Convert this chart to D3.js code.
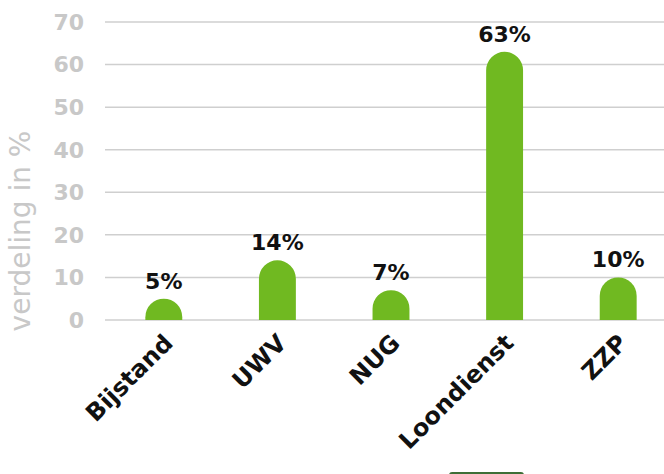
<!DOCTYPE html>
<html>
<head>
<meta charset="utf-8">
<script src="https://cdn.jsdelivr.net/npm/d3@7"></script>
<style>
  body { margin: 0; background: #fff; }
  svg { display: block; font-family: "DejaVu Sans", sans-serif; }
</style>
</head>
<body>
<svg id="chart" width="664" height="474"></svg>
<script>
const categories = ['Bijstand', 'UWV', 'NUG', 'Loondienst', 'ZZP'];
const values = [5, 14, 7, 63, 10];
const yTicks = [0, 10, 20, 30, 40, 50, 60, 70];

const svg = d3.select('#chart');
const green = '#70b921';

const x = d3.scaleBand()
  .domain(categories)
  .range([107, 675])
  .paddingInner(0.675)
  .paddingOuter(0.3375);

const y = d3.scaleLinear()
  .domain([0, 70])
  .range([320, 22]);

// gridlines
svg.append('g')
  .selectAll('line')
  .data(yTicks)
  .join('line')
  .attr('x1', 105)
  .attr('x2', 664)
  .attr('y1', d => y(d))
  .attr('y2', d => y(d))
  .attr('stroke', '#cfcfcf')
  .attr('stroke-width', 1.5);

// y tick labels
svg.append('g')
  .selectAll('text')
  .data(yTicks)
  .join('text')
  .attr('x', 84)
  .attr('y', d => y(d))
  .attr('dy', '0.36em')
  .attr('text-anchor', 'end')
  .attr('fill', '#c8c8c8')
  .attr('font-size', '22px')
  .attr('font-weight', 'bold')
  .text(d => d);

// axis title
svg.append('text')
  .attr('transform', 'translate(30,231) rotate(-90)')
  .attr('text-anchor', 'middle')
  .attr('fill', '#c8c8c8')
  .attr('font-size', '28px')
  .text('verdeling in %');

// bars, rounded top only
const bw = x.bandwidth();
const r = bw / 2;
svg.append('g')
  .selectAll('path')
  .data(values)
  .join('path')
  .attr('fill', green)
  .attr('d', (d, i) => {
    const x0 = x(categories[i]);
    const top = y(d);
    const bottom = y(0);
    const p = d3.path();
    p.moveTo(x0, bottom);
    p.lineTo(x0, top + r);
    p.arc(x0 + r, top + r, r, Math.PI, 0);
    p.lineTo(x0 + bw, bottom);
    p.closePath();
    return p.toString();
  });

// value labels
svg.append('g')
  .selectAll('text')
  .data(values)
  .join('text')
  .attr('x', (d, i) => x(categories[i]) + bw / 2)
  .attr('y', d => y(d) - 10)
  .attr('text-anchor', 'middle')
  .attr('fill', '#111')
  .attr('font-size', '22px')
  .attr('font-weight', 'bold')
  .text(d => d + '%');

// category labels, rotated
svg.append('g')
  .selectAll('text')
  .data(categories)
  .join('text')
  .attr('transform', d => `translate(${x(d) + bw / 2 + 2},${336}) rotate(-45)`)
  .attr('text-anchor', 'end')
  .attr('dy', '0.5em')
  .attr('fill', '#111')
  .attr('font-size', '24px')
  .attr('font-weight', 'bold')
  .text(d => d);

// legend swatch, cut off at bottom edge
svg.append('rect')
  .attr('x', 449)
  .attr('y', 472)
  .attr('width', 75)
  .attr('height', 10)
  .attr('rx', 3)
  .attr('fill', '#3d6e36');
</script>
</body>
</html>
